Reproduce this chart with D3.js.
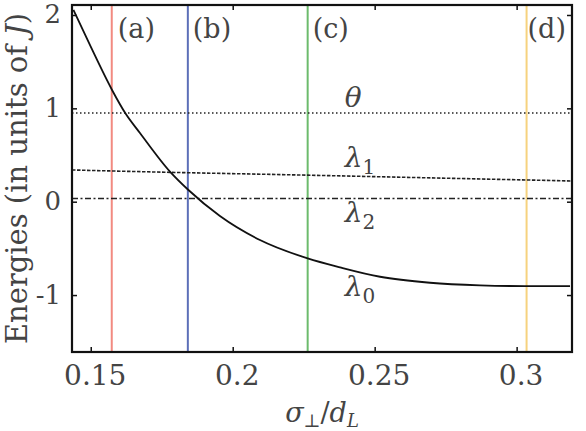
<meta charset="utf-8">
<script src="https://cdn.jsdelivr.net/npm/d3@7/dist/d3.min.js"></script>

<style>
  body {
    margin: 0;
    background-color: #fff;
  }
  .tick line {
    stroke: #111;
    stroke-width: 1.5;
  }
</style>

<div id="energies"></div>

<script>
// ---- data ----
var xTicks = [0.15, 0.2, 0.25, 0.3];
var yTicks = [-1, 0, 1, 2];

// lowest level, lambda_0 (solid curve)
var sigma0  = [0.1439, 0.1500, 0.1575, 0.1622, 0.1674, 0.1779, 0.1844, 0.1955, 0.2096, 0.2264, 0.2378, 0.2519, 0.2695, 0.2871, 0.3029, 0.3188];
var lambda0 = [2.055,  1.66,   1.197,  0.947,  0.733,  0.322,  0.125,  -0.153, -0.41,  -0.607, -0.703, -0.804, -0.868, -0.896, -0.904, -0.904];

// lambda_1 (dashed), drifts down a little
var sigma1  = [0.1434, 0.17, 0.2236, 0.27, 0.3195];
var lambda1 = [0.34, 0.32, 0.286, 0.255, 0.222];

// flat ones
var thetaLevel = 0.95;
var lambda2Level = 0.035;

// the four marked cuts
var cutNames = ["(a)", "(b)", "(c)", "(d)"];
var cutSigma = [0.1574, 0.1842, 0.2264, 0.3035];
var cutColors = ["#f28a80", "#5c6fb8", "#6cbb6c", "#f6d27e"];

// serif face, set straight on every text (Liberation Serif turned out to fall back to a sans)
var FONT = "'DejaVu Serif', serif";
var INK = "#444";

// set the dimensions of the graph (frame box in page pixels)
var W = 586, H = 431;
var box = {left: 72, right: 572, top: 5, bottom: 352};

var svg = d3.select("#energies")
  .append("svg")
    .attr("width", W)
    .attr("height", H)
    .attr("font-family", FONT);

var x = d3.scaleLinear()
  .domain([0.1434, 0.3195])
  .range([box.left, box.right]);

var y = d3.scaleLinear()
  .domain([-1.61, 2.107])
  .range([box.bottom, box.top]);

svg.append("clipPath")
    .attr("id", "plotclip")
  .append("rect")
    .attr("x", box.left)
    .attr("y", box.top)
    .attr("width", box.right - box.left)
    .attr("height", box.bottom - box.top);

var plot = svg.append("g").attr("clip-path", "url(#plotclip)");

// coloured vertical cuts
plot.selectAll("line.cut")
  .data(cutSigma)
  .enter()
  .append("line")
    .attr("class", "cut")
    .attr("x1", function(d) { return x(d); })
    .attr("x2", function(d) { return x(d); })
    .attr("y1", box.top)
    .attr("y2", box.bottom)
    .attr("stroke", function(d, i) { return cutColors[i]; })
    .attr("stroke-width", 2);

// theta, dotted
plot.append("path")
    .datum(x.domain())
    .attr("fill", "none")
    .attr("stroke", "#222")
    .attr("stroke-width", 1.6)
    .attr("stroke-dasharray", "1.5,2.5")
    .attr("d", d3.line()
      .x(function(d) { return x(d); })
      .y(function() { return y(thetaLevel); }));

// lambda_1, short dashes
plot.append("path")
    .datum(d3.range(sigma1.length))
    .attr("fill", "none")
    .attr("stroke", "#222")
    .attr("stroke-width", 1.6)
    .attr("stroke-dasharray", "3.5,1.5")
    .attr("d", d3.line()
      .x(function(i) { return x(sigma1[i]); })
      .y(function(i) { return y(lambda1[i]); })
      .curve(d3.curveMonotoneX));

// lambda_2, dash-dot
plot.append("path")
    .datum(x.domain())
    .attr("fill", "none")
    .attr("stroke", "#222")
    .attr("stroke-width", 1.6)
    .attr("stroke-dasharray", "6,2.5,2,2.5")
    .attr("d", d3.line()
      .x(function(d) { return x(d); })
      .y(function() { return y(lambda2Level); }));

// lambda_0, solid
plot.append("path")
    .datum(d3.range(sigma0.length))
    .attr("fill", "none")
    .attr("stroke", "#111")
    .attr("stroke-width", 1.8)
    .attr("d", d3.line()
      .x(function(i) { return x(sigma0[i]); })
      .y(function(i) { return y(lambda0[i]); })
      .curve(d3.curveMonotoneX));

// ticks point inwards on every side
// (the x labels sit a few px right of their ticks in the original)
svg.append("g")
    .attr("transform", "translate(0," + box.bottom + ")")
    .call(d3.axisBottom(x).tickValues(xTicks).tickSize(-5).tickFormat(function(d) { return String(d); }))
    .selectAll("text")
      .attr("x", 4)
      .attr("y", 33)
      .attr("dy", null)
      .attr("font-size", 28);

svg.append("g")
    .attr("transform", "translate(0," + box.top + ")")
    .call(d3.axisTop(x).tickValues(xTicks).tickSize(-5).tickFormat(""));

svg.append("g")
    .attr("transform", "translate(" + box.left + ",0)")
    .call(d3.axisLeft(y).tickValues(yTicks).tickSize(-5).tickFormat(function(d) { return String(d); }))
    .selectAll("text")
      .attr("x", -11)
      .attr("dy", null)
      .attr("y", 8)
      .attr("font-size", 26);

svg.append("g")
    .attr("transform", "translate(" + box.right + ",0)")
    .call(d3.axisRight(y).tickValues(yTicks).tickSize(-5).tickFormat(""));

svg.selectAll(".domain").remove();
svg.selectAll("g").attr("font-family", FONT);
svg.selectAll(".tick text").attr("fill", INK);

// frame
svg.append("rect")
    .attr("x", box.left)
    .attr("y", box.top)
    .attr("width", box.right - box.left)
    .attr("height", box.bottom - box.top)
    .attr("fill", "none")
    .attr("stroke", "#111")
    .attr("stroke-width", 2.2);

// (a) (b) (c) (d)
var cutNudge = [6, 5, 5, 1];
svg.selectAll("text.cutname")
  .data(cutNames)
  .enter()
  .append("text")
    .attr("class", "cutname")
    .attr("x", function(d, i) { return x(cutSigma[i]) + cutNudge[i]; })
    .attr("y", 38)
    .attr("font-family", FONT)
    .attr("font-size", 27)
    .attr("fill", INK)
    .text(function(d) { return d; });

// curve names, all stacked in one column around sigma = 0.24
var labelSigma = 0.2395;
function levelLabel(sym, sub, py) {
  var t = svg.append("text")
      .attr("x", x(labelSigma))
      .attr("y", py)
      .attr("font-family", FONT)
      .attr("fill", INK)
      .attr("font-size", 28);
  t.append("tspan").attr("font-style", "italic").text(sym);
  if (sub !== null) {
    t.append("tspan")
        .attr("dy", 7)
        .attr("font-size", 20)
        .text(sub);
  }
}
levelLabel("θ", null, y(thetaLevel) - 6);
levelLabel("λ", "1", y(0.29) - 8);
levelLabel("λ", "2", y(lambda2Level) + 24);
levelLabel("λ", "0", y(-0.9) + 10);

// axis titles
var yt = svg.append("text")
    .attr("transform", "translate(27," + ((box.top + box.bottom) / 2) + ")rotate(-90)")
    .attr("text-anchor", "middle")
    .attr("font-family", FONT)
    .attr("fill", INK)
    .attr("font-size", 29);
yt.append("tspan").text("Energies (in units of ");
yt.append("tspan").attr("font-style", "italic").text("J");
yt.append("tspan").text(")");

var xt = svg.append("text")
    .attr("x", (box.left + box.right) / 2)
    .attr("y", 422)
    .attr("text-anchor", "middle")
    .attr("font-family", FONT)
    .attr("fill", INK)
    .attr("font-size", 27);
xt.append("tspan").attr("font-style", "italic").text("σ");
xt.append("tspan").attr("dy", 5).attr("font-size", 18).text("⊥");
xt.append("tspan").attr("dy", -5).text("/");
xt.append("tspan").attr("font-style", "italic").text("d");
xt.append("tspan").attr("dy", 5).attr("font-size", 18).attr("font-style", "italic").text("L");
</script>
